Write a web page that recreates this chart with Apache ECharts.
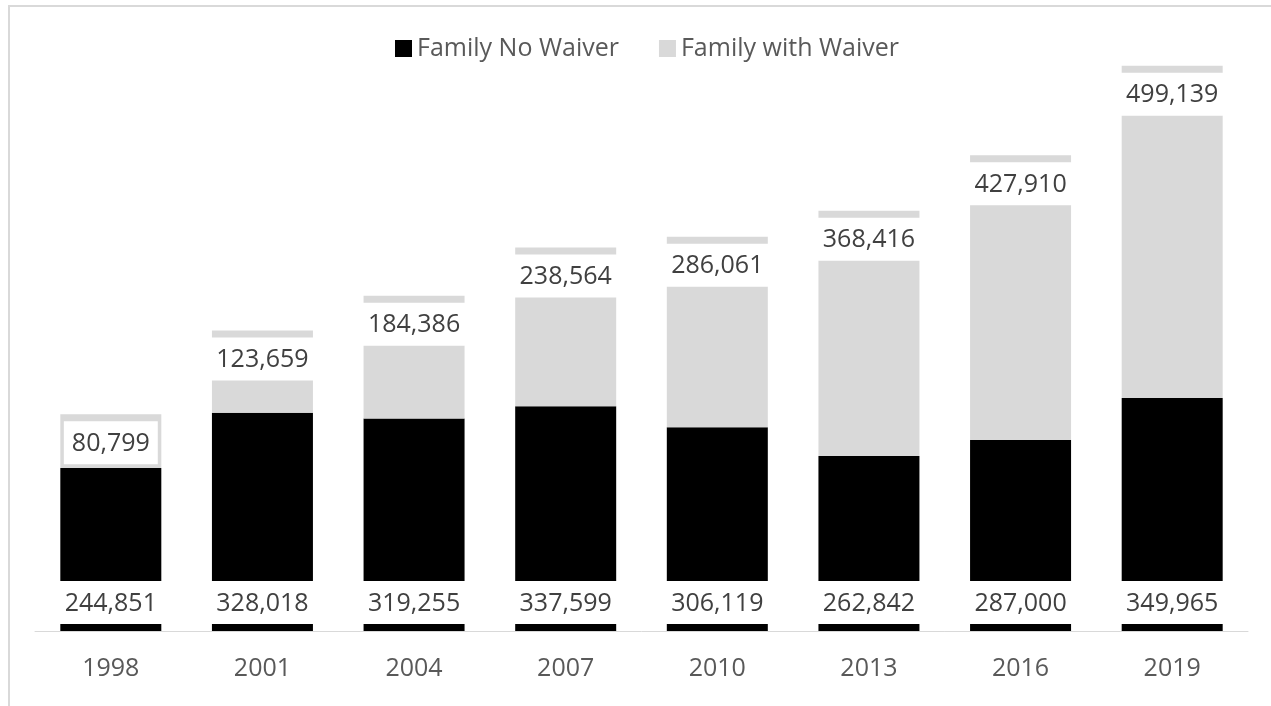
<!DOCTYPE html>
<html>
<head>
<meta charset="utf-8">
<script src="https://cdn.jsdelivr.net/npm/echarts@6/dist/echarts.min.js"></script>
<style>html,body{margin:0;padding:0;background:#fff}#c{width:1271px;height:706px}</style>
</head>
<body>
<div id="c"></div>
<script>
var categories = ['1998','2001','2004','2007','2010','2013','2016','2019'];
var noWaiver = [244851, 328018, 319255, 337599, 306119, 262842, 287000, 349965];
var withWaiver = [80799, 123659, 184386, 238564, 286061, 368416, 427910, 499139];
var seriesNames = ['Family No Waiver', 'Family with Waiver'];

var FONT = '"Open Sans", sans-serif';
function fmt(p){ return Number(p.value).toLocaleString('en-US'); }
var chart = echarts.init(document.getElementById('c'));
chart.setOption({
  animation: false,
  graphic: [{
    type: 'rect', silent: true, z: -10,
    shape: { x: 9, y: 6, width: 1400, height: 800 },
    style: { fill: 'none', stroke: '#d9d9d9', lineWidth: 2 }
  }],
  legend: {
    top: 31, left: 390,
    icon: 'rect', itemWidth: 17, itemHeight: 17, itemGap: 40,
    textStyle: { fontFamily: FONT, fontSize: 25, color: '#595959' },
    data: seriesNames
  },
  grid: { left: 35, right: 23, bottom: 75, top: 32, containLabel: false },
  xAxis: {
    type: 'category', data: categories,
    axisLine: { lineStyle: { color: '#d9d9d9', width: 1 } },
    axisTick: { show: false },
    axisLabel: { fontFamily: FONT, fontSize: 25, color: '#595959', margin: 25 }
  },
  yAxis: {
    type: 'value', min: 0, max: 900000,
    show: false, splitLine: { show: false }
  },
  series: [{
    name: seriesNames[0], type: 'bar', stack: 't', data: noWaiver, barWidth: 101,
    itemStyle: { color: '#000000' },
    label: {
      show: true, position: 'insideBottom', distance: 7, formatter: fmt,
      fontFamily: FONT, fontSize: 25, color: '#404040', lineHeight: 29,
      backgroundColor: '#ffffff', padding: [8, 8, 6, 8]
    }
  }, {
    name: seriesNames[1], type: 'bar', stack: 't', data: withWaiver, barWidth: 101,
    itemStyle: { color: '#d9d9d9' },
    label: {
      show: true, position: 'insideTop', distance: 7, formatter: fmt,
      fontFamily: FONT, fontSize: 25, color: '#404040', lineHeight: 29,
      backgroundColor: '#ffffff', padding: [8, 8, 6, 8]
    }
  }]
});
</script>
</body>
</html>
